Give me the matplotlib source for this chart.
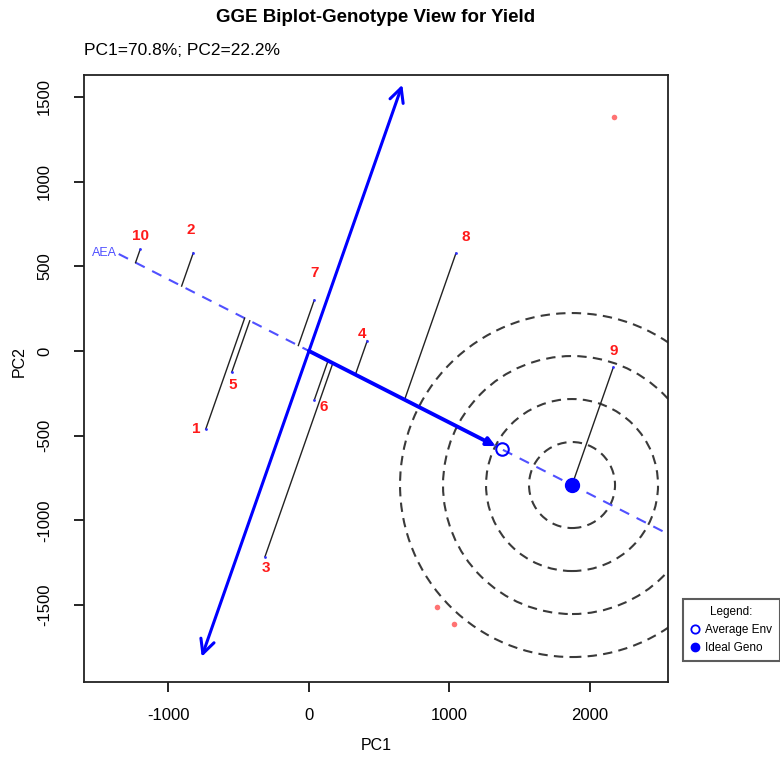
import numpy as np
import matplotlib
matplotlib.use("Agg")
import matplotlib.pyplot as plt
from matplotlib.patches import Ellipse
from matplotlib.lines import Line2D

# Genotype scores
genotypes = ["1", "2", "3", "4", "5", "6", "7", "8", "9", "10"]
g_pc1 = [-735, -823, -313, 415, -550, 38, 38, 1046, 2166, -1201]
g_pc2 = [-462, 580, -1214, 61, -126, -289, 301, 577, -96, 600]

# Environment scores (red points)
env_pc1 = [2171, 913, 1032]
env_pc2 = [1383, -1513, -1610]

# Concentric circle radii around the ideal genotype (x units)
ring_radii = [306, 612, 918, 1224]

# ATC ordinate arrow ends (length along the perpendicular axis)
atc_ends = [-1960, 1706]
# AEA dashed line extent (length along the AEA)
aea_ends = [-1470, 3500]

# label offsets (points) for the genotype numbers
label_offsets = [(-7, 0), (-2, 16.5), (1, -8), (-4, 5), (1, -9),
                 (6.5, -5), (0, 19.5), (7, 12), (0, 12), (0, 9.5)]

plt.rcParams['font.family'] = ['Liberation Sans', 'DejaVu Sans']
plt.rcParams['axes.unicode_minus'] = False

W, H = 780, 758
fig = plt.figure(figsize=(W / 100, H / 100), dpi=100)
ax = fig.add_axes([84 / W, 1 - 682 / H, (668 - 84) / W, (682 - 75) / H])
xlim = (-1601, 2555)
ylim = (-1954, 1629)
ax.set_xlim(*xlim)
ax.set_ylim(*ylim)

g = np.column_stack([g_pc1, g_pc2]).astype(float)
env = np.column_stack([env_pc1, env_pc2]).astype(float)

# average environment and AEA direction
avg = env.mean(axis=0)
u = avg / np.linalg.norm(avg)
v = np.array([-u[1], u[0]])  # perpendicular
if v[1] < 0:
    v = -v

# ideal genotype: best projection on the AEA
proj = g @ u
ideal = proj.max() * u

# pixel aspect so that circles look round on screen
sx = (668 - 84) / (xlim[1] - xlim[0])
sy = (682 - 75) / (ylim[1] - ylim[0])

for r in ring_radii:
    ax.add_patch(Ellipse(ideal, 2 * r, 2 * r * sx / sy, fill=False,
                         edgecolor='#3a3a3a', lw=1.5, linestyle=(0, (4.5, 3))))

# AEA dashed line
p0 = aea_ends[0] * u
p1 = aea_ends[1] * u
ax.plot([p0[0], p1[0]], [p0[1], p1[1]], color='#5050ff', lw=1.5,
        linestyle=(0, (5, 4)))
ax.annotate("AEA", xy=p0, xytext=(-1, 1), textcoords='offset points',
            ha='right', va='center', color='#5050ff', fontsize=9)

# projection lines of each genotype onto the AEA
for i in range(len(genotypes)):
    foot = proj[i] * u
    ax.plot([g[i, 0], foot[0]], [g[i, 1], foot[1]], color='#222222', lw=1)
ax.plot(g[:, 0], g[:, 1], 'o', color='#3030ff', ms=2, mew=0)

for name, (x, y), off in zip(genotypes, g, label_offsets):
    ax.annotate(name, xy=(x, y), xytext=off, textcoords='offset points',
                ha='center', va='center', color='#ff1a1a',
                fontsize=11, fontweight='bold')

# ATC ordinate (double headed)
a0 = atc_ends[0] * v
a1 = atc_ends[1] * v
ax.annotate('', xy=a1, xytext=a0,
            arrowprops=dict(arrowstyle='<->,head_length=1.0,head_width=0.5',
                            color='blue', lw=2.2, shrinkA=0, shrinkB=0))

# AEA arrow to the average environment
ax.annotate('', xy=avg, xytext=(0, 0),
            arrowprops=dict(arrowstyle='-|>', color='blue', lw=2.8,
                            mutation_scale=12, shrinkA=0, shrinkB=5))

ax.plot(*avg, 'o', mfc='none', mec='blue', ms=9, mew=1.5)
ax.plot(*ideal, 'o', color='blue', ms=10)

ax.plot(env[:, 0], env[:, 1], 'o', color='#ff5a5a', ms=4, mew=0, alpha=0.85)

ax.set_xticks([-1000, 0, 1000, 2000])
ax.set_yticks([-1500, -1000, -500, 0, 500, 1000, 1500])
ax.tick_params(length=7, width=1.2, labelsize=12)
ax.tick_params(axis='x', pad=12)
ax.tick_params(axis='y', pad=16)
for lab in ax.get_yticklabels():
    lab.set_rotation(90)
    lab.set_va('center')
for s in ax.spines.values():
    s.set_linewidth(1.3)
    s.set_color('#222222')

ax.set_xlabel("PC1", fontsize=11.5)
ax.xaxis.set_label_coords(0.5, -(738 - 682) / (682 - 75))
ax.set_ylabel("PC2", fontsize=11.5)
ax.yaxis.set_label_coords(-(84 - 27) / (668 - 84), (682 - 362) / (682 - 75))

fig.text(376 / W, 1 - 18 / H, "GGE Biplot-Genotype View for Yield",
         ha='center', va='center', fontsize=13.5, fontweight='bold')
fig.text(84 / W, 1 - 55 / H, "PC1=70.8%; PC2=22.2%", ha='left',
         va='baseline', fontsize=12.5)

handles = [Line2D([], [], ls='none', marker='o', mfc='none', mec='blue',
                  mew=1.3, ms=6),
           Line2D([], [], ls='none', marker='o', color='blue', ms=6)]
leg = ax.legend(handles, ["Average Env", "Ideal Geno"], title="Legend:",
                loc='upper left', bbox_to_anchor=(683 / W, 1 - 599 / H),
                bbox_transform=fig.transFigure, fontsize=8.5, title_fontsize=8.5,
                frameon=True, fancybox=False, edgecolor='#333333',
                borderpad=0.6, handlelength=0.8, handletextpad=0.5,
                labelspacing=0.5, borderaxespad=0)
leg.get_frame().set_linewidth(1.5)

fig.savefig("out.png", dpi=100)
